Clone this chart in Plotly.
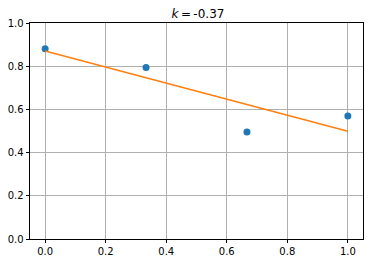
import plotly.graph_objects as go

# data
point_x = [0.0, 1/3, 2/3, 1.0]
point_y = [0.881, 0.794, 0.495, 0.569]
fit_x = [0.0, 1.0]
fit_y = [0.870, 0.499]
x_ticks = [0.0, 0.2, 0.4, 0.6, 0.8, 1.0]
y_ticks = [0.0, 0.2, 0.4, 0.6, 0.8, 1.0]
title_text = "<i>k</i>\u2009=\u2009-0.37"

fig = go.Figure()
fig.add_trace(go.Scatter(x=point_x, y=point_y, mode="markers",
                         marker=dict(color="#1f77b4", size=7, line=dict(width=0)),
                         showlegend=False, hoverinfo="skip"))
fig.add_trace(go.Scatter(x=fit_x, y=fit_y, mode="lines",
                         line=dict(color="#ff7f0e", width=1.5),
                         showlegend=False, hoverinfo="skip"))

axis_common = dict(
    showgrid=True, gridcolor="#b0b0b0", gridwidth=0.8,
    zeroline=False, showline=True, linecolor="black", linewidth=0.9,
    mirror=True, ticks="outside", ticklen=3.5, tickwidth=0.8, tickcolor="black",
    tickfont=dict(family="DejaVu Sans", size=10, color="black"),
    tickformat=".1f",
)

fig.update_layout(
    width=372, height=265,
    margin=dict(l=30, r=8, t=23, b=24),
    paper_bgcolor="white", plot_bgcolor="white",
    title=dict(text=title_text, x=198 / 372, xanchor="center",
               y=1 - 13.5 / 265, yanchor="middle", yref="container",
               font=dict(family="DejaVu Sans", size=12, color="black")),
    xaxis=dict(range=[-0.05, 1.05], tickvals=x_ticks, **axis_common),
    yaxis=dict(range=[0.0, 1.0], tickvals=y_ticks, **axis_common),
)

fig.write_html("out.html")
